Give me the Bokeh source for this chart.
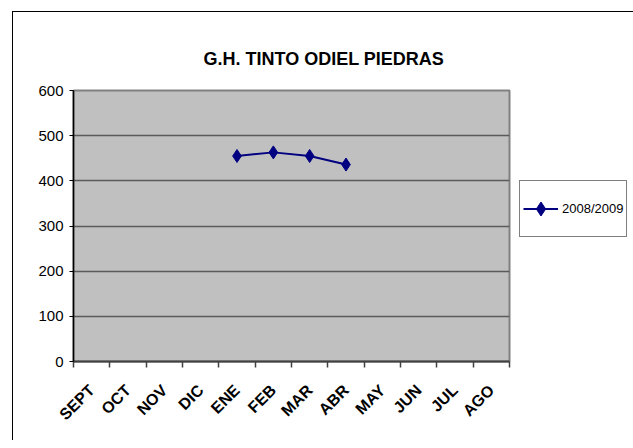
from math import pi
from bokeh.plotting import figure
from bokeh.models import Range1d, FixedTicker, Legend, LegendItem
from bokeh.embed import file_html
from bokeh.resources import INLINE

# ---- data ----
months = ["SEPT", "OCT", "NOV", "DIC", "ENE", "FEB", "MAR", "ABR", "MAY", "JUN", "JUL", "AGO"]
series_months = ["ENE", "FEB", "MAR", "ABR"]
series_values = [455, 463, 455, 436]
series_name = "2008/2009"
y_ticks = [0, 100, 200, 300, 400, 500, 600]
chart_title = "G.H. TINTO ODIEL PIEDRAS"

FONT = "Liberation Sans"

p = figure(frame_width=436, frame_height=271, output_backend="svg", toolbar_location=None,
           x_range=Range1d(0, len(months)), y_range=Range1d(y_ticks[0], y_ticks[-1]),
           min_border_left=60, min_border_right=116, min_border_top=78, min_border_bottom=79,
           background_fill_color="#C0C0C0", border_fill_color="white",
           title=chart_title)
p.margin = (11, 0, 0, 12)
p.styles = {"border-left": "1.5px solid black", "border-top": "1.5px solid black"}
p.outline_line_color = "#808080"
p.outline_line_width = 2

p.title.align = "left"
p.title.offset = 130
p.title.vertical_align = "top"
p.title.text_font = FONT
p.title.text_font_style = "bold"
p.title.text_font_size = "18px"
p.title.text_color = "black"
p.title.standoff = 40

# x positions at category centres
xs = [months.index(m) + 0.5 for m in series_months]
r_line = p.line(xs, series_values, line_color="#000080", line_width=2)
r_mark = p.scatter(xs, series_values, marker="diamond", size=13, fill_color="#000080", line_color="#000080")

# axes
p.xgrid.visible = False
p.ygrid.grid_line_color = "#5A5A5A"
p.ygrid.grid_line_width = 1.5
p.ygrid.ticker = FixedTicker(ticks=y_ticks)

xa = p.xaxis[0]
xa.ticker = FixedTicker(ticks=[i + 0.5 for i in range(len(months))], minor_ticks=list(range(len(months) + 1)))
xa.major_label_overrides = {i + 0.5: m for i, m in enumerate(months)}
xa.major_tick_out = 0
xa.major_tick_in = 0
xa.minor_tick_out = 6
xa.minor_tick_in = 0
xa.minor_tick_line_color = "#404040"
xa.minor_tick_line_width = 1.5
xa.axis_line_color = "#404040"
xa.axis_line_width = 2
xa.major_label_orientation = pi / 4
xa.major_label_text_font = FONT
xa.major_label_text_font_style = "bold"
xa.major_label_text_font_size = "16px"
xa.major_label_text_color = "black"
xa.major_label_standoff = 20

ya = p.yaxis[0]
ya.ticker = FixedTicker(ticks=y_ticks)
ya.major_tick_out = 4
ya.major_tick_in = 0
ya.minor_tick_out = 0
ya.minor_tick_in = 0
ya.axis_line_color = "black"
ya.axis_line_width = 1.5
ya.major_tick_line_color = "black"
ya.major_label_text_font = FONT
ya.major_label_text_font_size = "15px"
ya.major_label_text_color = "black"
ya.major_label_standoff = 6

legend = Legend(items=[LegendItem(label=series_name, renderers=[r_line, r_mark])],
                location=(10, 124), orientation="vertical",
                border_line_color="black", border_line_width=1.5,
                background_fill_color="white", background_fill_alpha=1,
                padding=3, margin=0, spacing=0,
                glyph_width=35, glyph_height=49, label_height=49,
                label_standoff=4, label_text_font=FONT, label_text_font_size="13px",
                label_text_color="black", label_text_baseline="middle")
p.add_layout(legend, "right")

open("out.html", "w").write(file_html(p, INLINE))
